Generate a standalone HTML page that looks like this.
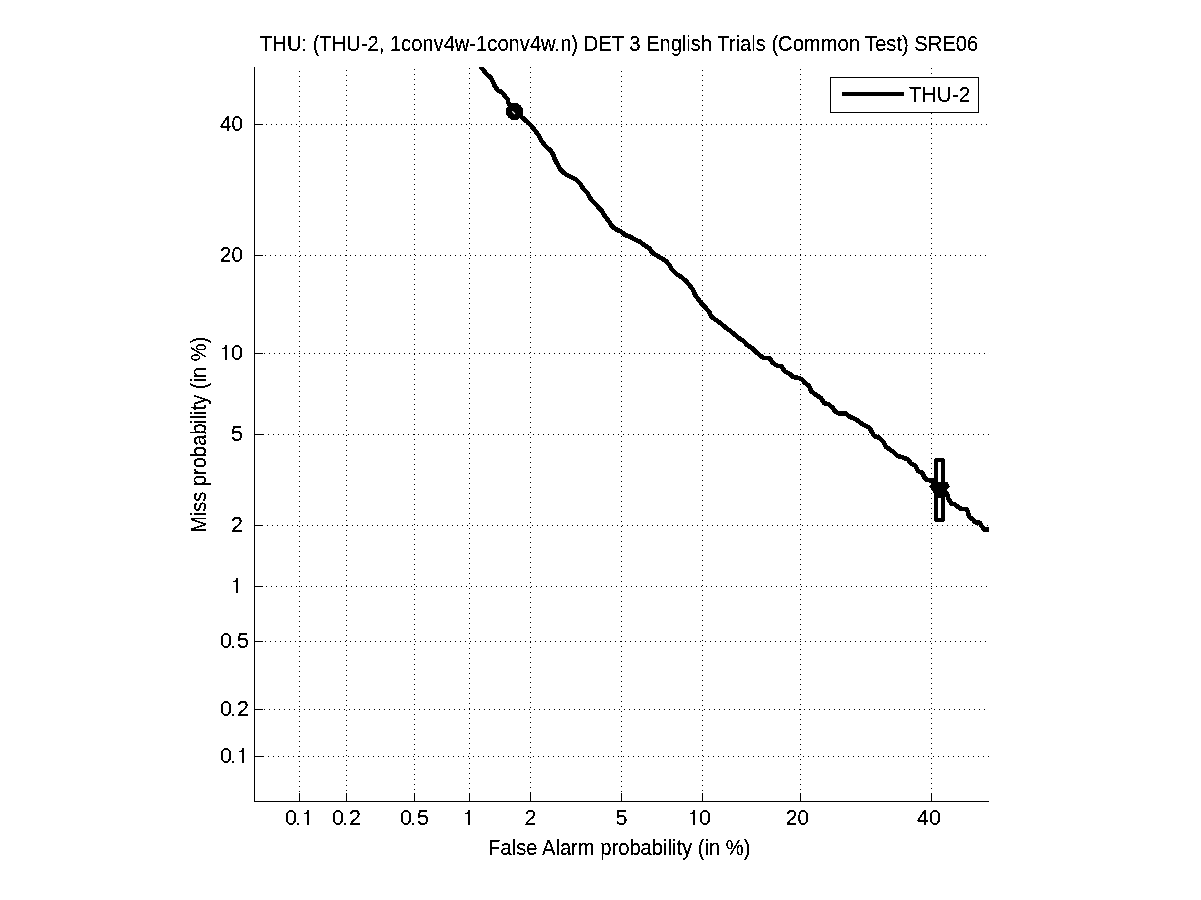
<!DOCTYPE html>
<html><head><meta charset="utf-8"><title>DET plot</title>
<style>
html,body{margin:0;padding:0;background:#fff;width:1201px;height:900px;overflow:hidden}
svg{display:block}
text{font-family:"Liberation Sans",sans-serif;font-size:21.5px;fill:#000}
</style></head><body>
<svg width="1201" height="900" viewBox="0 0 1201 900">
<rect x="0" y="0" width="1201" height="900" fill="#fff"/>
<defs><filter id="cr" x="-5%" y="-20%" width="110%" height="140%"><feComponentTransfer><feFuncA type="discrete" tableValues="0 0 1 1 1"/></feComponentTransfer></filter><clipPath id="ax"><rect x="254" y="67" width="735" height="735"/></clipPath></defs>

<g stroke="#000" stroke-width="1" stroke-dasharray="1 4" shape-rendering="crispEdges" fill="none">
<line x1="299.5" y1="71" x2="299.5" y2="801"/>
<line x1="346.5" y1="70" x2="346.5" y2="801"/>
<line x1="414.5" y1="69" x2="414.5" y2="801"/>
<line x1="469.5" y1="68" x2="469.5" y2="801"/>
<line x1="530.5" y1="67" x2="530.5" y2="801"/>
<line x1="621.5" y1="71" x2="621.5" y2="801"/>
<line x1="702.5" y1="70" x2="702.5" y2="801"/>
<line x1="800.5" y1="69" x2="800.5" y2="801"/>
<line x1="931.5" y1="68" x2="931.5" y2="801"/>
<line x1="256" y1="124.5" x2="989" y2="124.5"/>
<line x1="255" y1="255.5" x2="989" y2="255.5"/>
<line x1="259" y1="353.5" x2="989" y2="353.5"/>
<line x1="258" y1="434.5" x2="989" y2="434.5"/>
<line x1="257" y1="525.5" x2="989" y2="525.5"/>
<line x1="256" y1="586.5" x2="989" y2="586.5"/>
<line x1="255" y1="641.5" x2="989" y2="641.5"/>
<line x1="259" y1="709.5" x2="989" y2="709.5"/>
<line x1="258" y1="756.5" x2="989" y2="756.5"/>
</g>
<g stroke="#000" stroke-width="1" shape-rendering="crispEdges" fill="none">
<line x1="254.5" y1="67" x2="254.5" y2="802"/>
<line x1="254" y1="801.5" x2="989" y2="801.5"/>
<line x1="299.5" y1="793" x2="299.5" y2="801"/>
<line x1="346.5" y1="793" x2="346.5" y2="801"/>
<line x1="414.5" y1="793" x2="414.5" y2="801"/>
<line x1="469.5" y1="793" x2="469.5" y2="801"/>
<line x1="530.5" y1="793" x2="530.5" y2="801"/>
<line x1="621.5" y1="793" x2="621.5" y2="801"/>
<line x1="702.5" y1="793" x2="702.5" y2="801"/>
<line x1="800.5" y1="793" x2="800.5" y2="801"/>
<line x1="931.5" y1="793" x2="931.5" y2="801"/>
<line x1="255" y1="124.5" x2="263" y2="124.5"/>
<line x1="255" y1="255.5" x2="263" y2="255.5"/>
<line x1="255" y1="353.5" x2="263" y2="353.5"/>
<line x1="255" y1="434.5" x2="263" y2="434.5"/>
<line x1="255" y1="525.5" x2="263" y2="525.5"/>
<line x1="255" y1="586.5" x2="263" y2="586.5"/>
<line x1="255" y1="641.5" x2="263" y2="641.5"/>
<line x1="255" y1="709.5" x2="263" y2="709.5"/>
<line x1="255" y1="756.5" x2="263" y2="756.5"/>
</g>
<g clip-path="url(#ax)"><path d="M481.0 67.5 L483.0 69.3 L486.3 74.0 L490.3 77.3 L492.7 81.3 L495.0 86.7 L498.3 90.7 L501.7 92.0 L504.3 95.3 L507.7 99.3 L508.5 103.3 L514.4 111.6 L521.7 117.0 L527.0 121.7 L531.0 125.7 L535.0 130.3 L539.0 135.7 L541.7 141.0 L545.7 146.3 L550.3 150.3 L553.0 154.3 L555.0 159.7 L558.0 165.0 L561.0 170.3 L565.7 174.3 L571.7 177.3 L576.3 179.7 L580.3 183.7 L583.0 188.3 L587.0 192.3 L589.0 196.3 L592.3 201.0 L597.0 205.7 L601.3 210.3 L604.7 215.7 L608.7 221.0 L612.0 226.3 L616.7 229.7 L621.3 231.7 L625.3 235.0 L630.7 237.0 L635.3 239.7 L640.0 241.7 L644.0 245.0 L649.3 248.3 L652.7 253.0 L656.3 255.3 L661.0 258.0 L666.3 261.3 L669.7 265.3 L671.7 269.3 L676.3 274.0 L681.7 277.3 L685.7 280.7 L689.7 285.3 L693.0 290.0 L695.0 294.7 L698.3 299.3 L701.3 303.3 L705.3 307.3 L709.3 312.0 L711.3 316.7 L716.0 320.0 L720.7 323.3 L725.3 327.3 L730.0 330.7 L734.0 334.0 L738.7 338.0 L744.0 341.3 L747.3 345.3 L752.0 348.0 L756.3 352.3 L761.0 356.3 L764.3 358.0 L769.7 358.3 L772.3 362.3 L777.0 365.7 L781.7 366.3 L784.3 371.0 L789.7 373.7 L793.0 377.0 L797.7 377.7 L801.7 379.0 L805.0 383.0 L809.0 385.7 L811.0 391.0 L813.3 393.0 L817.3 395.7 L821.3 398.3 L824.0 403.0 L828.7 404.3 L832.7 407.7 L835.3 411.7 L839.3 413.7 L846.0 413.7 L850.0 417.0 L855.3 419.0 L860.0 422.3 L863.3 425.0 L866.3 426.0 L869.7 428.0 L871.7 432.0 L874.3 436.0 L879.7 438.0 L883.7 442.0 L885.7 446.7 L889.7 449.3 L894.3 452.7 L897.7 456.0 L902.3 457.3 L907.7 459.3 L911.0 463.3 L915.7 466.0 L918.3 471.3 L922.3 472.7 L924.3 477.3 L927.0 480.0 L933.0 480.5 L939.0 487.0 L947.2 493.9 L948.3 498.3 L951.1 503.3 L955.0 504.4 L958.3 507.2 L961.1 508.9 L966.7 508.9 L968.1 512.8 L968.9 516.7 L972.8 519.4 L975.0 522.2 L980.0 522.8 L981.7 526.1 L983.9 529.4 L992.0 529.5" fill="none" stroke="#000" stroke-width="4.6" stroke-linejoin="round" stroke-linecap="round" shape-rendering="crispEdges"/></g>
<circle cx="514.5" cy="111.5" r="5.4" fill="none" stroke="#000" stroke-width="6.4" shape-rendering="crispEdges"/>
<path d="M512.6 111.6 L514.6 113.6" stroke="#fff" stroke-width="1.3" stroke-linecap="round"/>
<rect x="936" y="460" width="7" height="60" rx="1" fill="none" stroke="#000" stroke-width="4" shape-rendering="crispEdges"/>
<polygon points="929.5,486.5 934,481.5 947,481.5 949.5,486.5 946,490.5 945,498 934,498 933.5,492.5 931,489" fill="#000" shape-rendering="crispEdges"/>
<rect x="830.5" y="77.5" width="148" height="35" fill="#fff" stroke="#000" stroke-width="1" shape-rendering="crispEdges"/>
<rect x="842" y="92" width="62" height="4" fill="#000"/>
<path d="M307 810h2v15h-2zM304 813h3v1h-3zM306 812h1v1h-1zM468 810h2v15h-2zM465 813h3v1h-3zM467 812h1v1h-1zM693 810h2v15h-2zM690 813h3v1h-3zM692 812h1v1h-1zM225 345h2v15h-2zM222 348h3v1h-3zM224 347h1v1h-1zM236 578h2v15h-2zM233 581h3v1h-3zM235 580h1v1h-1zM242 748h2v15h-2zM239 751h3v1h-3zM241 750h1v1h-1z" fill="#000" shape-rendering="crispEdges"/>
<path d="M297 823h2v2h-2zM232 761h2v2h-2zM344 823h2v2h-2zM412 823h2v2h-2zM232 714h2v2h-2zM232 646h2v2h-2z" fill="#000" shape-rendering="crispEdges"/>
<g filter="url(#cr)">
<text x="260.06" y="51" textLength="718.15" lengthAdjust="spacingAndGlyphs">THU: (THU-2, 1conv4w-1conv4w.n) DET 3 English Trials (Common Test) SRE06</text>
<text x="488.12" y="855" textLength="262.39" lengthAdjust="spacingAndGlyphs">False Alarm probability (in %)</text>
<text x="909.03" y="102" textLength="61.24" lengthAdjust="spacingAndGlyphs">THU-2</text>
<text x="285.00" y="825">0</text>
<text x="332.00" y="825">0</text>
<text x="349.00" y="825">2</text>
<text x="400.00" y="825">0</text>
<text x="417.00" y="825">5</text>
<text x="524.50" y="825">2</text>
<text x="615.50" y="825">5</text>
<text x="699.00" y="825">0</text>
<text x="786.05" y="825" textLength="22.83" lengthAdjust="spacingAndGlyphs">20</text>
<text x="917.00" y="825">40</text>
<text x="220.05" y="131" textLength="22.83" lengthAdjust="spacingAndGlyphs">40</text>
<text x="220.05" y="262" textLength="22.83" lengthAdjust="spacingAndGlyphs">20</text>
<text x="231.00" y="360">0</text>
<text x="231.00" y="441">5</text>
<text x="231.00" y="532">2</text>
<text x="220.00" y="648">0</text>
<text x="237.00" y="648">5</text>
<text x="220.00" y="716">0</text>
<text x="237.00" y="716">2</text>
<text x="220.00" y="763">0</text>
<text transform="translate(206,869) rotate(-90)" x="336.14" y="0" textLength="196.06" lengthAdjust="spacingAndGlyphs">Miss probability (in %)</text>
</g>
</svg></body></html>
